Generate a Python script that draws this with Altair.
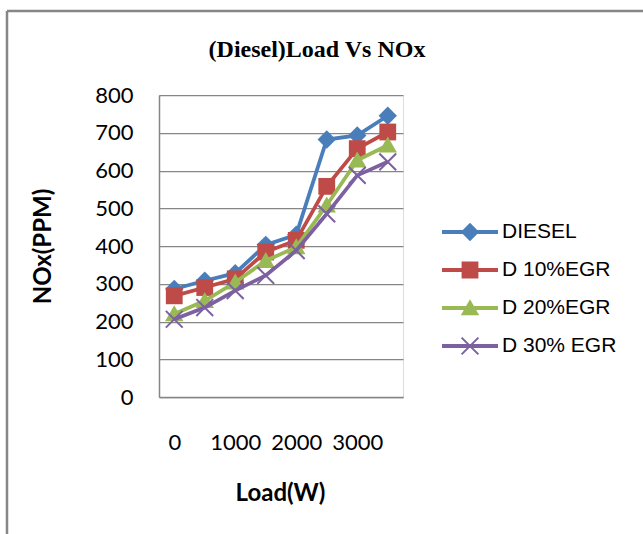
import altair as alt
import pandas as pd

# ---- data ----
loads = ["0", "500", "1000", "1500", "2000", "2500", "3000", "3500"]
load_labels = ["0", "1000", "2000", "3000"]
series_names = ["DIESEL", "D 10%EGR", "D 20%EGR", "D 30% EGR"]
diesel = [286, 308, 328, 403, 430, 682, 693, 745]
egr10 = [268, 290, 313, 384, 415, 558, 658, 702]
egr20 = [220, 255, 304, 361, 397, 508, 627, 667]
egr30 = [206, 237, 282, 322, 388, 485, 587, 623]
y_ticks = [0, 100, 200, 300, 400, 500, 600, 700, 800]

series_values = [diesel, egr10, egr20, egr30]
colors = ["#4A7EBB", "#BE4B48", "#98B954", "#7D60A0"]

rows = []
for name, vals in zip(series_names, series_values):
    for ld, v in zip(loads, vals):
        rows.append({"series": name, "load": ld, "nox": v})
df = pd.DataFrame(rows)

# ---- marker shapes (unit coords, scaled by sqrt(size)/2) ----
diamond = "M0,-0.46L0.46,0L0,0.46L-0.46,0Z"
square = "M-0.42,-0.42H0.42V0.42H-0.42Z"
triangle = "M0,-0.44L0.46,0.36L-0.46,0.36Z"
xmark = ("M-0.4554,-0.3846L-0.3846,-0.4554L0.4554,0.3846L0.3846,0.4554Z"
         "M-0.3846,0.4554L-0.4554,0.3846L0.3846,-0.4554L0.4554,-0.3846Z")
markers = [diamond, square, triangle, xmark]
seg = "M-1.4,-0.094H1.4V0.094H-1.4Z"
legend_paths = [seg + m for m in markers]

GRAY = "#868686"
FONT = "Lato"

xenc = alt.X(
    "load:O", sort=loads,
    scale=alt.Scale(type="point", padding=0.5),
    axis=alt.Axis(
        values=load_labels, labelAngle=0, ticks=False, grid=False,
        domainColor=GRAY, domainWidth=1.5,
        labelFont=FONT, labelFontSize=22, labelColor="black", labelPadding=35,
        title="Load(W)", titleFont=FONT, titleFontSize=24, titleFontWeight="bold",
        titleColor="black", titleBaseline="middle", titleY=96, titleX=121,
    ),
)
yenc = alt.Y(
    "nox:Q",
    scale=alt.Scale(domain=[0, 800], nice=False),
    axis=alt.Axis(
        values=y_ticks, ticks=False, grid=True, gridColor=GRAY, gridWidth=1.25,
        domainColor=GRAY, domainWidth=1.5,
        labelFont=FONT, labelFontSize=22, labelColor="black", labelPadding=26,
        title="NOx(PPM)", titleFont=FONT, titleFontSize=24, titleFontWeight="bold",
        titleColor="black", titleBaseline="middle", titleAlign="center",
        titleX=-116, titleY=151, titleAngle=-90,
    ),
)

base = alt.Chart(df)
layers = []
for name, col, mk in zip(series_names, colors, markers):
    sub = base.transform_filter(alt.datum.series == name)
    layers.append(sub.mark_line(color=col, strokeWidth=3.75).encode(x=xenc, y=yenc))
    layers.append(
        sub.mark_point(shape=mk, size=1600, filled=True, color=col, opacity=1, strokeWidth=0)
        .encode(x=xenc, y=yenc)
    )

leg = alt.Legend(
    title=None, orient="none", legendX=291, legendY=117,
    symbolSize=1600, symbolStrokeWidth=0, symbolOpacity=1,
    labelFont="Liberation Sans", labelFontSize=21, labelColor="black",
    labelOffset=12, rowPadding=8, labelLimit=300,
)
legend_layer = base.mark_point(filled=True, size=0).encode(
    x=xenc, y=yenc,
    color=alt.Color("series:N", sort=series_names,
                    scale=alt.Scale(domain=series_names, range=colors), legend=leg),
    shape=alt.Shape("series:N", sort=series_names,
                    scale=alt.Scale(domain=series_names, range=legend_paths), legend=leg),
)

one = alt.Chart(pd.DataFrame({"a": [0]}))
border_top = one.mark_rule(color=GRAY, strokeWidth=2.5).encode(
    x=alt.value(-152), x2=alt.value(490), y=alt.value(-84))
border_left = one.mark_rule(color=GRAY, strokeWidth=2.5).encode(
    x=alt.value(-152), y=alt.value(-84), y2=alt.value(445))

chart = alt.layer(border_top, border_left, *layers, legend_layer).properties(
    width=244, height=302,
    title=alt.TitleParams(
        "(Diesel)Load Vs NOx", font="Liberation Serif", fontSize=24,
        fontWeight="bold", color="black", anchor="middle", dx=36,
        baseline="alphabetic", offset=0, dy=71,
    ),
    autosize=alt.AutoSizeParams(type="none"),
    padding={"left": 159, "top": 95, "right": 240, "bottom": 137},
).configure_view(stroke=None).configure(background="white")

chart.save("out.html", embed_options={"renderer": "svg", "actions": False})
